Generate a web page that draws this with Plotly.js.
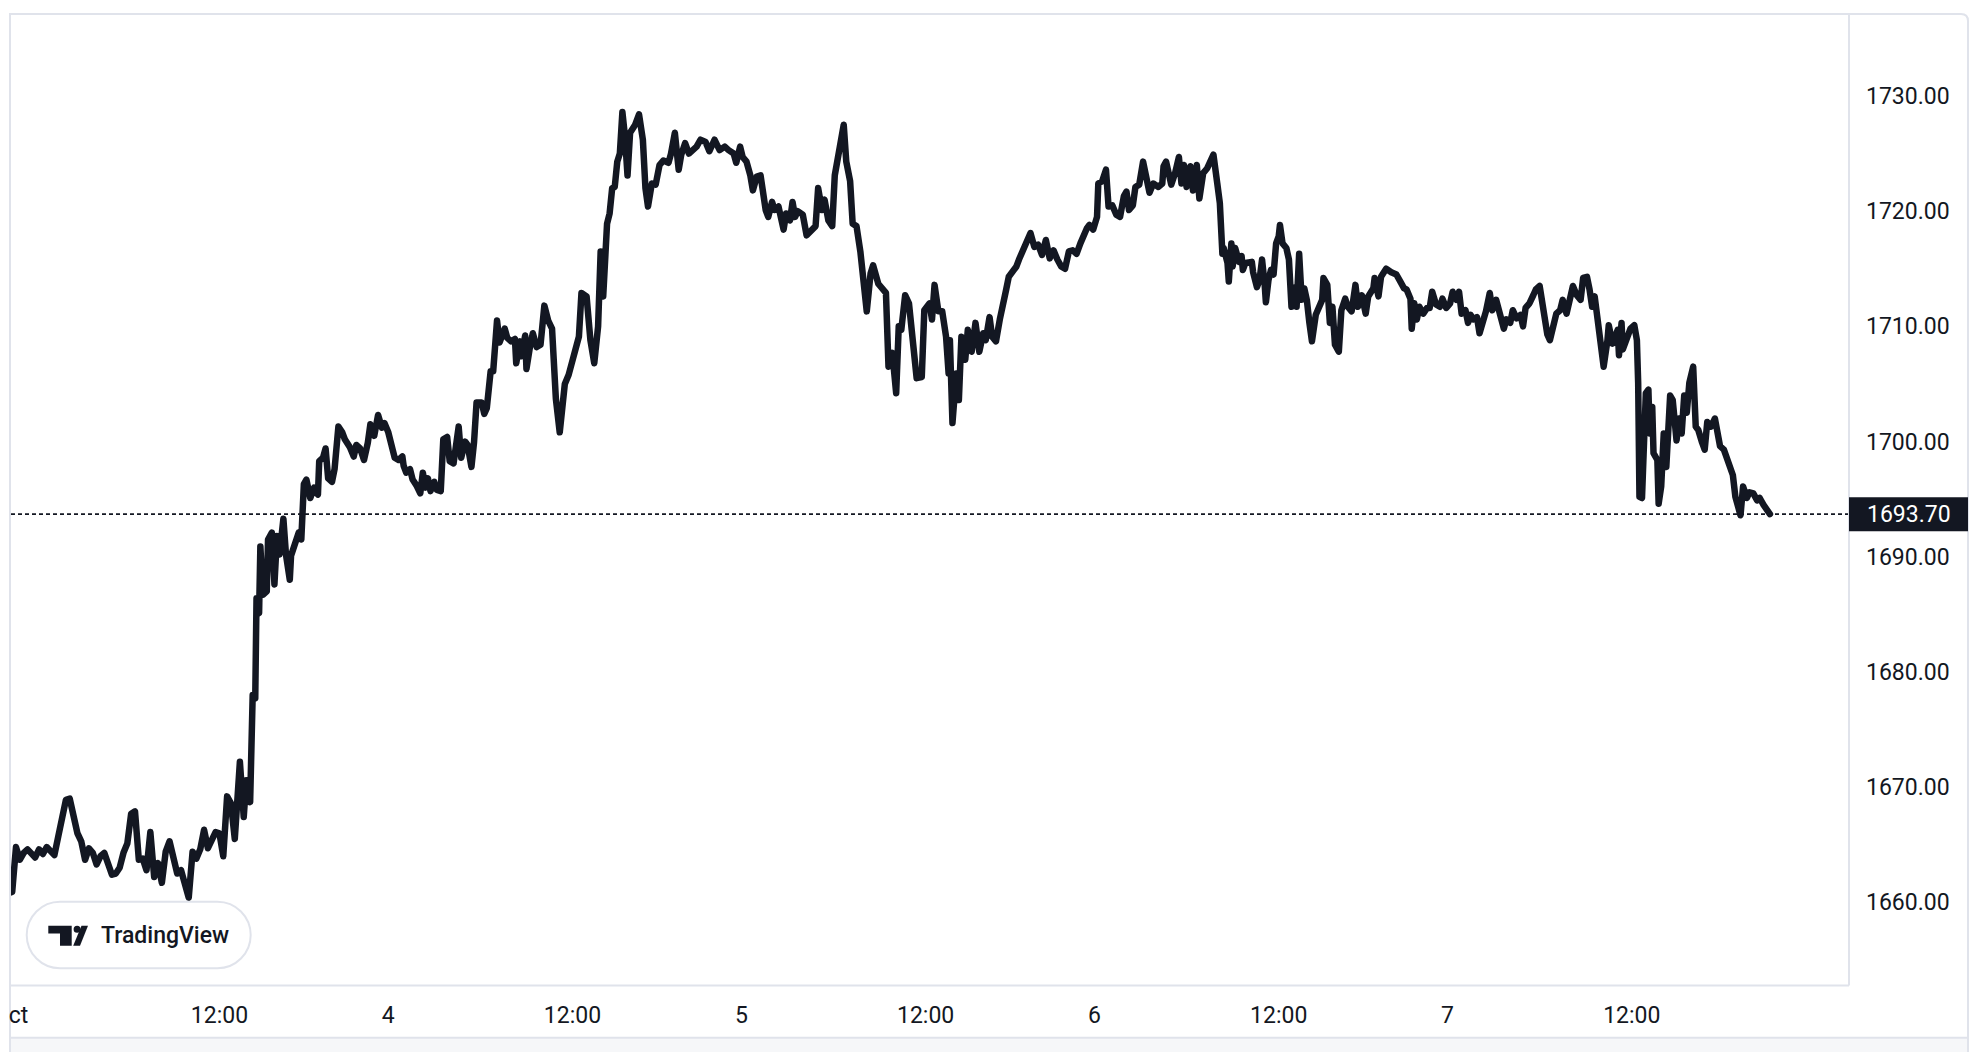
<!DOCTYPE html>
<html>
<head>
<meta charset="utf-8">
<script src="https://cdn.plot.ly/plotly-3.0.1.min.js"></script>
<style>
html,body{margin:0;padding:0;background:#ffffff;overflow:hidden}
#chart{width:1984px;height:1052px}
</style>
</head>
<body>
<div id="chart"></div>
<script>
// ---- DATA: 5-minute bar index since session open (Sun 2 Oct 22:00 UTC), price ----
const barsA = [0,3,6,9,12,15,18,21,24,27,
  30,33,36,39,42,45,48,51,54,57,
  60,63,66,69,72,75,78,81,84,87,
  90,93,96,99,102,105,108,111,114,117,
  120,123,126,129,132,135,138,141,144,147,
  150,153,156,159,162,165,168,171,174,177];
const priceA = [1661.0,1660.8,1660.9,1664.8,1663.7,1664.3,1664.6,1664.3,1663.9,1664.6,
  1664.2,1664.8,1664.4,1664.1,1665.7,1667.4,1668.9,1669.0,1667.4,1666.0,
  1665.3,1663.7,1664.7,1664.3,1663.3,1664.0,1664.3,1663.1,1662.4,1662.5,
  1663.0,1664.3,1665.1,1667.7,1667.9,1663.7,1663.8,1662.8,1666.1,1662.2,
  1663.4,1661.7,1664.4,1665.3,1664.0,1662.5,1662.8,1661.4,1660.4,1664.4,
  1663.8,1664.6,1666.3,1664.7,1665.4,1666.1,1666.0,1664.0,1669.2,1668.6];

const barsB = [180,184,187,189,192,194,196,197,199,200,
  202,205,206,209,211,213,215,218,220,223,
  224,227,230,232,234,236,239,242,245,246,
  249,251,253,256,258,261,264,266,270,273,
  275,278,281,284,286,289,292,295,297,300,
  303,305,308,311,312,314,317,319,322,325,
  327,329,331,333,336,338,341,343,346,348,
  351,355,357,360,362,365,367,369,373,375,
  377,380,382,385,387,391,393,396,399,400,
  403,404,407,408,411,413,416,419,422,425,
  428,431,434,438,441];
const priceB = [1665.5,1672.2,1667.4,1670.6,1668.7,1678.0,1677.7,1686.4,1685.1,1690.9,
  1686.7,1687.0,1691.5,1692.1,1687.6,1691.8,1690.2,1693.3,1690.2,1688.0,
  1690.1,1691.0,1692.1,1691.5,1696.3,1696.7,1695.1,1696.0,1695.4,1698.3,
  1698.6,1699.4,1696.8,1696.5,1697.6,1701.3,1700.8,1700.2,1699.5,1698.7,
  1699.7,1699.4,1698.4,1699.9,1701.5,1700.5,1702.3,1701.2,1701.6,1700.8,
  1699.7,1698.6,1698.4,1698.7,1697.9,1697.3,1697.6,1696.7,1696.2,1695.5,
  1697.3,1696.0,1696.8,1695.7,1696.5,1695.8,1695.7,1700.2,1700.4,1698.3,
  1698.1,1701.3,1698.6,1700.0,1699.7,1697.8,1699.9,1703.4,1703.4,1702.4,
  1702.9,1706.1,1706.1,1710.5,1708.6,1709.8,1709.0,1708.7,1708.9,1706.8,
  1708.7,1707.4,1709.2,1706.3,1708.4,1709.4,1708.2,1708.4,1711.8,1710.5,
  1709.8,1703.7,1700.8,1705.0,1705.8];

const barsC = [444,446,449,451,455,458,461,464,466,468,
  471,473,475,477,479,481,483,485,487,489,
  493,496,499,501,503,506,509,512,515,519,
  521,524,527,529,532,535,538,541,544,548,
  551,555,559,563,566,570,572,575,577,580,
  583,585,588,591,595,597,600,602,605,609,
  611,614,616,618,620,624,627,630,634,636,
  639,641,644,647,649,653,656,658,661,663,
  666,669];
const priceC = [1707.1,1708.2,1709.1,1712.9,1712.6,1708.8,1706.8,1710.0,1716.5,1712.6,
  1718.9,1719.8,1722.0,1722.1,1724.3,1725.0,1728.6,1726.5,1723.1,1726.8,
  1727.5,1728.4,1726.2,1722.0,1720.4,1722.4,1722.3,1724.0,1724.4,1724.2,
  1725.0,1726.8,1723.6,1724.9,1725.9,1725.0,1725.3,1725.6,1726.2,1726.0,
  1725.2,1726.2,1725.3,1725.6,1725.3,1725.0,1724.2,1725.6,1724.7,1724.3,
  1723.1,1721.8,1723.0,1723.1,1720.1,1719.5,1720.8,1720.1,1720.4,1718.4,
  1719.8,1719.2,1720.8,1719.5,1720.0,1719.7,1717.9,1718.2,1718.7,1722.0,
  1720.1,1721.0,1719.2,1718.7,1723.1,1725.6,1727.5,1724.3,1722.6,1718.9,
  1718.7,1716.5];

const barsD = [671,674,677,679,683,686,689,691,694,697,
  699,701,704,707,710,713,717,719,723,725,
  727,730,733,736,738,739,741,744,746,748,
  751,753,756,759,762,765,767,770,772,775,
  778,781,783,785,789,791,793,796,799,802,
  805,808,811,814,817,820,823,826,829,832,
  835,838,841,843,846,848,851,854,855,858,
  861,863,866,869,872,875,877,879,882,884,
  887,890,892,895,898,902,905,906,908,912,
  915,918,920,922,924,927,929,932,934,937,
  940,942,945,948,950,952,953,956,957,959,
  960,962,965,967,968,970,972,975,976,979];
const priceD = [1714.0,1711.3,1714.6,1715.3,1713.7,1713.2,1712.9,1706.5,1707.7,1704.2,
  1710.0,1709.7,1712.7,1712.0,1709.1,1705.5,1705.6,1711.4,1712.0,1710.6,
  1713.6,1711.3,1711.3,1709.1,1705.9,1708.8,1701.6,1705.9,1703.6,1709.1,
  1707.1,1709.7,1707.8,1710.3,1707.8,1709.4,1708.8,1710.8,1709.1,1708.7,
  1710.6,1711.9,1713.2,1714.3,1714.9,1715.2,1715.8,1716.6,1717.2,1718.1,
  1716.9,1717.1,1716.2,1717.5,1715.9,1716.6,1715.8,1715.2,1715.0,1716.5,
  1716.6,1716.3,1717.2,1717.8,1718.5,1718.8,1718.4,1719.5,1722.4,1722.6,
  1723.6,1720.4,1720.5,1719.7,1719.5,1721.3,1721.7,1720.1,1720.5,1722.1,
  1722.3,1724.3,1723.4,1721.6,1722.4,1722.1,1722.4,1723.9,1724.3,1722.3,
  1723.3,1724.7,1722.4,1724.0,1722.1,1723.9,1721.8,1724.0,1721.1,1723.3,
  1723.7,1724.2,1724.9,1722.4,1720.7,1716.3,1716.8,1715.5,1713.9,1717.2,
  1715.2,1716.8,1715.6,1716.1,1714.9,1715.5,1715.6,1715.6,1714.7,1713.4];

const barsE = [981,983,985,986,988,990,992,994,996,997,
  999,1002,1004,1006,1009,1010,1012,1014,1016,1018,
  1020,1022,1025,1028,1030,1031,1034,1036,1038,1040,
  1043,1045,1048,1050,1053,1056,1058,1061,1064,1066,
  1070,1071,1074,1076,1080,1084,1088,1091,1094,1096,
  1099,1100,1102,1104,1106,1109,1112,1114,1116,1119,
  1122,1124,1127,1130,1132,1135,1137,1139,1142,1144,
  1146,1148,1151,1153,1155,1158,1161,1163,1166,1169,
  1172,1174,1177,1179,1182,1185,1187,1189,1192,1195,
  1197,1200,1202,1203,1206,1208,1211,1213,1216,1218,
  1221,1224,1226,1229,1232,1234,1237,1239,1241,1243,
  1245,1247,1250,1253,1254,1257,1259,1261,1262,1264,
  1265,1268,1271,1274,1276,1277];
const priceE = [1714.0,1715.8,1713.7,1712.1,1714.0,1714.9,1714.5,1717.2,1717.8,1718.8,
  1717.2,1716.8,1715.8,1711.7,1713.4,1711.7,1716.3,1712.3,1713.3,1712.3,
  1710.3,1708.7,1711.0,1712.0,1712.3,1714.2,1713.6,1710.3,1711.7,1708.4,
  1707.8,1711.4,1712.4,1711.7,1711.3,1713.6,1711.7,1712.7,1711.1,1712.6,
  1713.3,1714.2,1712.6,1714.3,1715.0,1714.7,1714.5,1713.9,1713.3,1713.2,
  1712.4,1709.8,1712.0,1710.6,1711.7,1711.1,1711.6,1711.6,1713.0,1711.9,
  1711.7,1712.4,1711.6,1712.0,1713.0,1712.3,1713.0,1711.1,1711.4,1710.3,
  1711.0,1710.6,1710.8,1709.4,1710.0,1711.3,1712.9,1711.4,1712.3,1710.8,
  1709.8,1710.6,1710.3,1711.4,1710.7,1711.0,1710.0,1711.6,1712.0,1712.7,
  1713.2,1713.5,1712.0,1710.7,1709.3,1708.8,1710.6,1711.1,1711.4,1712.3,
  1711.1,1712.3,1713.5,1712.7,1712.3,1714.2,1714.3,1713.2,1711.7,1712.6,
  1710.6,1708.8,1706.5,1708.8,1710.1,1708.5,1709.3,1709.7,1707.5,1710.3,
  1708.0,1709.1,1709.8,1710.1,1708.8,1705.1];

const barsF = [1278,1280,1282,1283,1285,1286,1288,1289,1292,1293,
  1295,1297,1299,1300,1302,1304,1307,1309,1311,1313,
  1315,1317,1320,1322,1324,1327,1329,1331,1334,1337,
  1339,1341,1344,1346,1349,1351,1353,1355,1357,1359,
  1362,1364,1367,1370,1372,1375,1378,1380];
const priceF = [1695.2,1695.1,1700.1,1704.2,1704.5,1700.7,1703.0,1699.0,1698.4,1694.6,
  1696.1,1700.7,1697.8,1699.6,1704.0,1703.6,1700.1,1702.0,1700.7,1704.0,
  1702.5,1705.1,1706.5,1701.3,1701.0,1699.9,1699.3,1701.7,1701.3,1702.0,
  1701.0,1699.6,1699.3,1698.7,1697.5,1697.1,1695.2,1694.1,1693.6,1696.1,
  1695.1,1695.6,1695.5,1694.9,1695.1,1694.5,1693.9,1693.7];

const lastPrice = 1693.70;
const tickBars = [168,300,444,576,720,852,996,1128,1272];
const tickLabels = ['12:00','4','12:00','5','12:00','6','12:00','7','12:00'];
const priceTicks = [1660,1670,1680,1690,1700,1710,1720,1730];

const bars = [].concat(barsA,barsB,barsC,barsD,barsE,barsF);
const price = [].concat(priceA,priceB,priceC,priceD,priceE,priceF);

// ---- LAYOUT HELPERS (pixel -> paper) ----
const W=1984,H=1052,ML=11,MR=135,MT=13,MB=66;
const PW=W-ML-MR, PH=H-MT-MB;
const fx = x => (x-ML)/PW;
const fy = y => (H-MB-y)/PH;
function path(segs){
  return segs.map(s=>{
    const c=s[0], n=s.slice(1), pts=[];
    for(let i=0;i<n.length;i+=2) pts.push(fx(n[i]).toFixed(6)+','+fy(n[i+1]).toFixed(6));
    return c+pts.join(' ');
  }).join(' ');
}
const INK='#131722', BORDER='#e0e3eb', FONT='Roboto, "Liberation Sans", sans-serif';

// pill for logo
const px0=26.7, px1=250.7, py0=901.7, py1=968.3, rr=(py1-py0)/2, kk=0.5523*rr;
const pillPath = path([
  ['M',px0+rr,py0],['L',px1-rr,py0],
  ['C',px1-rr+kk,py0, px1,py0+rr-kk, px1,py0+rr],
  ['C',px1,py0+rr+kk, px1-rr+kk,py1, px1-rr,py1],
  ['L',px0+rr,py1],
  ['C',px0+rr-kk,py1, px0,py1-rr+kk, px0,py1-rr],
  ['C',px0,py0+rr-kk, px0+rr-kk,py0, px0+rr,py0],['Z']
]);

const shapes = [
  // last price dotted line
  {type:'line', xref:'paper', yref:'y', x0:0, x1:1, y0:lastPrice, y1:lastPrice,
   line:{color:INK, width:1.6, dash:'4px,3px'}, layer:'below'},
  // outer frame
  {type:'path', xref:'paper', yref:'paper', layer:'above',
   path: path([['M',10,1052],['L',10,14],['L',1961,14],['Q',1968,14,1968,21],['L',1968,1052]]),
   line:{color:BORDER, width:2}},
  // price-axis divider
  {type:'line', xref:'paper', yref:'paper', x0:fx(1849), x1:fx(1849), y0:fy(14), y1:fy(985.5),
   line:{color:BORDER, width:2}, layer:'above'},
  // plot bottom border
  {type:'line', xref:'paper', yref:'paper', x0:fx(10), x1:fx(1849), y0:fy(985.5), y1:fy(985.5),
   line:{color:BORDER, width:2}, layer:'above'},
  // bottom strip
  {type:'rect', xref:'paper', yref:'paper', x0:fx(11), x1:fx(1967), y0:fy(1038), y1:fy(1053),
   fillcolor:'#f6f7f9', line:{width:0}, layer:'above'},
  {type:'line', xref:'paper', yref:'paper', x0:fx(10), x1:fx(1968), y0:fy(1037.7), y1:fy(1037.7),
   line:{color:BORDER, width:2}, layer:'above'},
  // last price box
  {type:'rect', xref:'paper', yref:'y', x0:fx(1849), x1:fx(1968),
   ysizemode:'pixel', yanchor:lastPrice, y0:-17, y1:17,
   fillcolor:INK, line:{width:0}, layer:'above'},
  // logo pill
  {type:'path', xref:'paper', yref:'paper', path:pillPath, fillcolor:'#ffffff',
   line:{color:'#e0e3eb', width:2}, layer:'above'},
  // TV logo: T block
  {type:'path', xref:'paper', yref:'paper', layer:'above', fillcolor:INK, line:{width:0},
   path: path([['M',48.3,925.7],['L',71.7,925.7],['L',71.7,945.7],['L',60,945.7],['L',60,933.6],['L',48.3,933.6],['Z']])},
  // dot
  {type:'circle', xref:'paper', yref:'paper', layer:'above', fillcolor:INK, line:{width:0},
   x0:fx(73.6), x1:fx(80.6), y0:fy(932.7), y1:fy(925.7)},
  // slash
  {type:'path', xref:'paper', yref:'paper', layer:'above', fillcolor:INK, line:{width:0},
   path: path([['M',81.5,925.7],['L',88,925.7],['L',80,945.7],['L',73.2,945.7],['Z']])}
];

const annotations = [
  {xref:'paper', yref:'paper', x:fx(29.5), y:fy(1015), xanchor:'right', yanchor:'middle',
   text:'Oct', showarrow:false, font:{family:FONT, size:23, color:INK}},
  {xref:'paper', yref:'y', x:fx(1849), y:lastPrice, xanchor:'left', yanchor:'middle', xshift:16,
   text:'1693.70', showarrow:false, font:{family:FONT, size:23, color:'#ffffff'}},
  {xref:'paper', yref:'paper', x:fx(99), y:fy(935.5), xanchor:'left', yanchor:'middle',
   text:'TradingView', showarrow:false, font:{family:FONT, size:23, color:INK, weight:500}}
];

const trace = {
  x: bars, y: price, type:'scatter', mode:'lines',
  line:{color:INK, width:6.5}, hoverinfo:'skip'
};

const layout = {
  width:W, height:H,
  margin:{l:ML, r:MR, t:MT, b:MB, pad:0},
  paper_bgcolor:'#ffffff', plot_bgcolor:'#ffffff',
  showlegend:false,
  xaxis:{
    range:[(11-4.5)/1.2793, (1849-4.5)/1.2793],
    tickmode:'array', tickvals:tickBars, ticktext:tickLabels,
    showgrid:false, zeroline:false, showline:false, ticks:'',
    ticklabelstandoff:13,
    tickfont:{family:FONT, size:23, color:INK}
  },
  yaxis:{
    side:'right', range:[1652.74, 1737.2],
    tickmode:'array', tickvals:priceTicks, tickformat:'.2f',
    showgrid:false, zeroline:false, showline:false, ticks:'',
    ticklabelstandoff:16,
    tickfont:{family:FONT, size:23, color:INK}
  },
  shapes:shapes,
  annotations:annotations
};

Plotly.newPlot('chart',[trace],layout,{staticPlot:true, displayModeBar:false}).then(gd=>{
  // rounded joins like the original line renderer
  gd.querySelectorAll('.scatterlayer .js-line').forEach(p=>{
    p.style.strokeLinejoin='round'; p.style.strokeLinecap='round';
  });
  // hide the part of the month label that falls outside the chart frame (as in the original)
  const svgs = gd.querySelectorAll('svg.main-svg');
  const top = svgs[svgs.length-1];
  const r = document.createElementNS('http://www.w3.org/2000/svg','rect');
  r.setAttribute('x','0'); r.setAttribute('y','990');
  r.setAttribute('width','9'); r.setAttribute('height','46');
  r.setAttribute('fill','#ffffff');
  top.appendChild(r);
});
</script>
</body>
</html>
